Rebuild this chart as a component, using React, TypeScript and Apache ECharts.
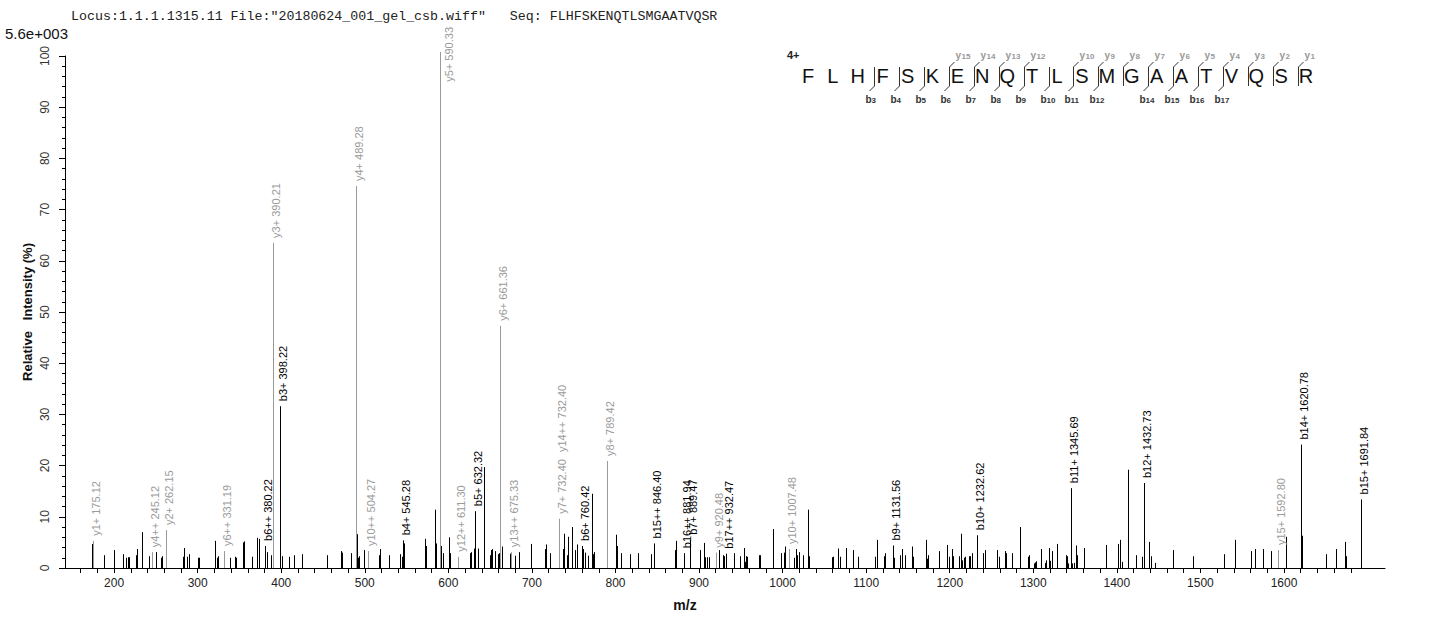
import React, { useEffect, useRef } from 'react';
import * as echarts from 'echarts';

const headerText = 'Locus:1.1.1.1315.11 File:"20180624_001_gel_csb.wiff"   Seq: FLHFSKENQTLSMGAATVQSR';
const maxIntensityLabel = '5.6e+003';
const yTitle = 'Relative   Intensity (%)';
const xTitle = 'm/z';
const sequence = 'FLHFSKENQTLSMGAATVQSR';
const chargeLabel = '4+';
const bBreaks = [3, 4, 5, 6, 7, 8, 9, 10, 11, 12, 14, 15, 16, 17];
const yBreaks = [1, 2, 3, 4, 5, 6, 7, 8, 9, 10, 12, 13, 14, 15];

const xLabelValues = [200, 300, 400, 500, 600, 700, 800, 900, 1000, 1100, 1200, 1300, 1400, 1500, 1600];

// unannotated peaks (m/z, relative intensity %)
const peakMz = [
  173.2, 187.6, 200.3, 211.0, 214.6, 217.0, 218.2, 225.9, 227.8, 233.0, 242.1, 250.5, 256.5, 257.7,
  282.8, 284.0, 287.6, 289.3, 300.8, 302.0, 321.1, 323.5, 324.7, 339.1, 344.3, 345.5, 353.9, 354.7,
  355.9, 365.4, 371.4, 373.0, 382.6, 388.2, 401.5, 409.7, 415.7, 425.2, 455.2,
  471.2, 472.4, 483.2, 490.5, 491.5, 492.6, 498.7, 516.7, 518.6, 528.6, 542.5, 544.0, 546.5, 571.7,
  572.9, 583.7, 584.9, 591.5, 593.6, 600.4, 602.4, 625.9, 626.7, 631.1, 635.8, 643.1, 649.5, 651.1,
  652.7, 656.2, 659.0, 660.6, 662.2, 664.6, 673.5, 680.2, 685.0, 698.6, 699.4, 716.1, 717.3, 721.7,
  737.2, 738.8, 742.4, 743.6, 748.4, 751.2, 753.6, 754.4,
  761.6, 763.2, 767.5, 771.5, 772.7, 773.9, 790.3, 800.7, 801.9, 807.0, 817.8, 826.6, 843.0, 871.3,
  872.1, 882.4, 901.6, 906.4, 907.6, 909.9, 911.6, 923.5, 928.3, 929.9, 942.3, 949.4, 954.2, 955.4,
  956.6, 957.8, 972.2, 973.4, 988.9, 998.5, 1002.1, 1003.3, 1014.1, 1016.5, 1017.7, 1020.1, 1024.8,
  1030.8, 1032.0, 1059.5, 1060.7, 1066.7, 1069.1, 1076.3,
  1084.7, 1090.6, 1111.0, 1113.4, 1121.0, 1123.0, 1132.9, 1140.9, 1143.3, 1146.9, 1154.5, 1156.5,
  1171.2, 1172.8, 1174.0, 1187.6, 1197.1, 1199.5, 1203.1, 1204.3, 1211.5, 1213.9, 1215.1, 1217.5,
  1218.7, 1223.5, 1224.7, 1227.1, 1240.2, 1242.6, 1257.0, 1259.4, 1266.6, 1267.8, 1274.9, 1283.7,
  1284.5, 1294.1, 1295.3, 1301.3, 1302.5, 1303.7, 1309.6, 1314.4, 1315.6, 1319.2, 1320.4, 1322.8,
  1328.0, 1339.6, 1340.8, 1342.0, 1346.7, 1349.1, 1351.5, 1352.7, 1360.3, 1387.4,
  1401.8, 1404.2, 1406.6, 1413.8, 1422.6, 1430.6, 1433.0, 1438.1, 1441.3, 1445.3, 1466.9, 1491.6,
  1527.9, 1541.9, 1560.2, 1565.0, 1575.4, 1584.1, 1602.9, 1621.9, 1650.0, 1662.7, 1673.5, 1674.7,
];
const peakPct = [
  4.7, 2.5, 3.5, 2.7, 2.0, 2.1, 2.1, 2.5, 3.7, 7.0, 2.3, 3.1, 2.0, 2.3,
  2.2, 3.9, 2.2, 2.7, 2.0, 2.0, 5.3, 2.0, 2.3, 2.0, 2.2, 2.0, 2.0, 5.0,
  5.2, 2.2, 5.9, 5.7, 3.1, 2.5, 2.3, 2.2, 2.5, 2.7, 2.5,
  3.3, 3.0, 2.9, 6.6, 2.0, 2.3, 3.5, 2.5, 3.7, 2.5, 2.7, 2.2, 4.8, 5.7,
  4.3, 11.4, 4.8, 4.3, 2.9, 6.0, 2.9, 2.9, 3.1, 3.8, 3.8, 19.7, 2.5, 3.5,
  3.7, 3.3, 2.7, 2.9, 10.8, 4.2, 2.8, 2.4, 3.1, 4.7, 3.1, 3.7, 4.6, 2.9,
  3.7, 6.7, 2.5, 6.1, 8.0, 3.5, 2.2, 4.6,
  3.7, 3.0, 2.4, 14.5, 2.7, 3.1, 4.4, 6.5, 4.3, 2.9, 2.7, 2.9, 2.7, 3.5,
  5.3, 2.5, 3.5, 4.9, 2.1, 2.1, 2.1, 3.5, 2.5, 2.3, 2.9, 2.3, 3.9, 1.2,
  2.3, 2.2, 2.5, 2.5, 7.6, 2.9, 3.0, 4.2, 2.0, 3.7, 2.5, 3.1, 2.5,
  11.4, 2.3, 2.1, 2.2, 3.8, 2.2, 3.9,
  3.5, 2.2, 2.2, 5.5, 2.3, 2.9, 2.0, 2.5, 3.7, 2.5, 4.2, 2.2,
  5.5, 1.8, 2.5, 3.3, 4.5, 2.2, 3.7, 2.3, 2.3, 6.7, 1.5, 2.0,
  2.2, 2.3, 2.3, 2.9, 2.9, 3.5, 3.5, 2.2, 3.3, 2.9, 2.9, 8.0,
  4.4, 2.2, 2.5, 0.9, 1.1, 1.3, 3.7, 1.0, 1.5, 3.9, 1.4, 3.3,
  4.7, 2.5, 2.3, 0.9, 0.9, 1.0, 4.4, 2.5, 3.9, 4.5,
  4.7, 5.5, 1.2, 19.2, 2.5, 2.2, 1.2, 5.1, 2.3, 1.0, 3.5, 2.3,
  2.7, 5.5, 3.3, 3.7, 3.7, 3.3, 6.1, 6.3, 2.7, 3.7, 5.1, 2.3,
];

// annotated fragment ions
const ionNames = [
  'y1+', 'y4++', 'y2+', 'y6++', 'b6++', 'y3+', 'b3+', 'y4+', 'y10++', 'b4+', 'y5+', 'y12++',
  'b5+', 'y6+', 'y13++', 'y7+', 'y14++', 'b6+', 'y8+', 'b15++', 'b16++', 'b7+', 'y9+', 'b17++',
  'y10+', 'b9+', 'b10+', 'b11+', 'b12+', 'y15+', 'b14+', 'b15+',
];
const ionMz = [
  175.12, 245.12, 262.15, 331.19, 380.22, 390.21, 398.22, 489.28, 504.27, 545.28, 590.33, 611.30,
  632.32, 661.36, 675.33, 732.40, 732.40, 760.42, 789.42, 846.40, 881.94, 889.47, 920.48, 932.47,
  1007.48, 1131.56, 1232.62, 1345.69, 1432.73, 1592.80, 1620.78, 1691.84,
];
const ionPct = [
  5.3, 3.1, 7.4, 3.3, 4.3, 63.5, 31.6, 74.6, 3.3, 5.4, 100.8, 2.2,
  11.1, 47.3, 3.1, 9.6, 9.6, 4.3, 20.9, 4.8, 2.9, 5.5, 3.0, 2.8,
  3.7, 4.4, 6.4, 15.6, 16.6, 3.5, 24.1, 13.4,
];

const FONT = '"Liberation Sans", Arial, Helvetica, sans-serif';
const Y_COLOR = '#9a9a9a';
const B_COLOR = '#000000';

function measure(text: string, font: string): number {
  const c = document.createElement('canvas').getContext('2d');
  if (!c) return text.length * 6;
  c.font = font;
  return c.measureText(text).width;
}

export default function App() {
  const ref = useRef<HTMLDivElement>(null);
  useEffect(() => {
    if (!ref.current) return;
    const chart = echarts.init(ref.current, undefined, { renderer: 'svg' });

    const labelFont = `11px ${FONT}`;
    const ionTexts = ionNames.map((n, i) => `${n} ${ionMz[i].toFixed(2)}`);
    const ionWidths = ionTexts.map((t) => measure(t, labelFont));
    const ionOffsets = ionMz.map((m, i) => {
      let off = 0;
      for (let j = 0; j < i; j++) if (Math.abs(ionMz[j] - m) < 0.001) off += ionWidths[j] + 7;
      return off;
    });

    const xTicks: number[] = [];
    for (let v = 160; v <= 1680; v += 20) xTicks.push(v);

    const seqX0 = 808;
    const seqStep = 24.9;
    const graphics: any[] = [];
    graphics.push({
      type: 'text', x: 71, y: 16,
      style: { text: headerText, font: `13.3px "Liberation Mono", "Courier New", monospace`, fill: '#222', align: 'left', verticalAlign: 'middle' },
    });
    graphics.push({
      type: 'text', x: 5, y: 33,
      style: { text: maxIntensityLabel, font: `15px ${FONT}`, fill: '#111', align: 'left', verticalAlign: 'middle' },
    });
    graphics.push({
      type: 'text', x: 27, y: 312, rotation: Math.PI / 2,
      style: { text: yTitle, font: `bold 13px ${FONT}`, fill: '#111', align: 'center', verticalAlign: 'middle' },
    });
    graphics.push({
      type: 'text', x: 685, y: 605,
      style: { text: xTitle, font: `bold 14px ${FONT}`, fill: '#111', align: 'center', verticalAlign: 'middle' },
    });
    graphics.push({
      type: 'text', x: 787, y: 55,
      style: { text: chargeLabel, font: `bold 11px ${FONT}`, fill: '#222', align: 'left', verticalAlign: 'middle' },
    });
    for (let i = 0; i < sequence.length; i++) {
      graphics.push({
        type: 'text', x: seqX0 + seqStep * i, y: 76,
        style: { text: sequence[i], font: `20px ${FONT}`, fill: '#111', align: 'center', verticalAlign: 'middle' },
      });
    }
    const n = sequence.length;
    for (let k = 1; k < n; k++) {
      const hasB = bBreaks.includes(k);
      const yNum = n - k;
      const hasY = yBreaks.includes(yNum);
      if (!hasB && !hasY) continue;
      const x = Math.round(seqX0 + seqStep * (k - 0.5) + 4) + 0.5;
      const pts: number[][] = [];
      if (hasB) pts.push([x - 5, 91]);
      pts.push([x, 86], [x, 67]);
      if (hasY) pts.push([x + 5, 62]);
      graphics.push({ type: 'polyline', shape: { points: pts }, style: { stroke: '#333', lineWidth: 1, fill: null } });
      if (hasB) {
        graphics.push({ type: 'text', x: x - 9, y: 99, style: { text: 'b', font: `bold 10px ${FONT}`, fill: '#333', align: 'left', verticalAlign: 'middle' } });
        graphics.push({ type: 'text', x: x - 3, y: 100.5, style: { text: String(k), font: `bold 8px ${FONT}`, fill: '#333', align: 'left', verticalAlign: 'middle' } });
      }
      if (hasY) {
        graphics.push({ type: 'text', x: x + 6, y: 55, style: { text: 'y', font: `bold 10px ${FONT}`, fill: '#999', align: 'left', verticalAlign: 'middle' } });
        graphics.push({ type: 'text', x: x + 12, y: 56, style: { text: String(yNum), font: `bold 8px ${FONT}`, fill: '#999', align: 'left', verticalAlign: 'middle' } });
      }
    }

    const option: any = {
      animation: false,
      backgroundColor: '#fff',
      grid: { left: 65, right: 51, top: 56, bottom: 59, containLabel: false },
      xAxis: {
        type: 'value', min: 141.25, max: 1720.9,
        axisLine: { show: true, lineStyle: { color: '#000', width: 1 } },
        axisTick: { show: true, length: 5, customValues: xTicks, lineStyle: { color: '#000' } },
        axisLabel: {
          show: true, customValues: xLabelValues, fontSize: 12, color: '#222', fontFamily: FONT, margin: 9,
          formatter: (v: number) => String(v),
        },
        splitLine: { show: false },
      },
      yAxis: {
        type: 'value', min: 0, max: 100, interval: 10,
        axisLine: { show: true, lineStyle: { color: '#000', width: 1 } },
        axisTick: { show: true, length: 6, lineStyle: { color: '#000' } },
        minorTick: { show: true, splitNumber: 5, length: 3, lineStyle: { color: '#000' } },
        axisLabel: { rotate: 90, fontSize: 12, color: '#333', fontFamily: FONT, margin: 14 },
        splitLine: { show: false },
        minorSplitLine: { show: false },
      },
      graphic: graphics,
      series: [
        {
          type: 'custom',
          clip: false,
          data: peakMz.map((m, i) => [m, peakPct[i]]),
          encode: { x: 0, y: 1 },
          renderItem: (params: any, api: any) => {
            const b = api.coord([api.value(0), 0]);
            const t = api.coord([api.value(0), api.value(1)]);
            const x = Math.round(b[0]) + 0.5;
            return { type: 'line', shape: { x1: x, y1: b[1], x2: x, y2: t[1] }, style: { stroke: '#000', lineWidth: 1 } };
          },
        },
        {
          type: 'custom',
          clip: false,
          data: ionMz.map((m, i) => [m, ionPct[i], i]),
          encode: { x: 0, y: 1 },
          renderItem: (params: any, api: any) => {
            const idx = api.value(2);
            const isY = ionNames[idx][0] === 'y';
            const color = isY ? Y_COLOR : B_COLOR;
            const b = api.coord([api.value(0), 0]);
            const t = api.coord([api.value(0), api.value(1)]);
            const x = Math.round(b[0]) + 0.5;
            let start = t[1] - 5 - ionOffsets[idx];
            let lx = x + 2;
            const w = ionWidths[idx];
            if (start - w < 27) { start = 27 + w; lx = x + 8; }
            return {
              type: 'group',
              children: [
                { type: 'line', shape: { x1: x, y1: b[1], x2: x, y2: t[1] }, style: { stroke: color, lineWidth: 1 } },
                {
                  type: 'text', x: lx, y: start, rotation: Math.PI / 2,
                  style: { text: ionTexts[idx], font: labelFont, fill: color, align: 'left', verticalAlign: 'middle' },
                },
              ],
            };
          },
        },
      ],
    };
    chart.setOption(option);
    return () => chart.dispose();
  }, []);
  return <div ref={ref} style={{ position: 'absolute', left: 0, top: 0, width: 1436, height: 627, background: '#fff' }} />;
}
